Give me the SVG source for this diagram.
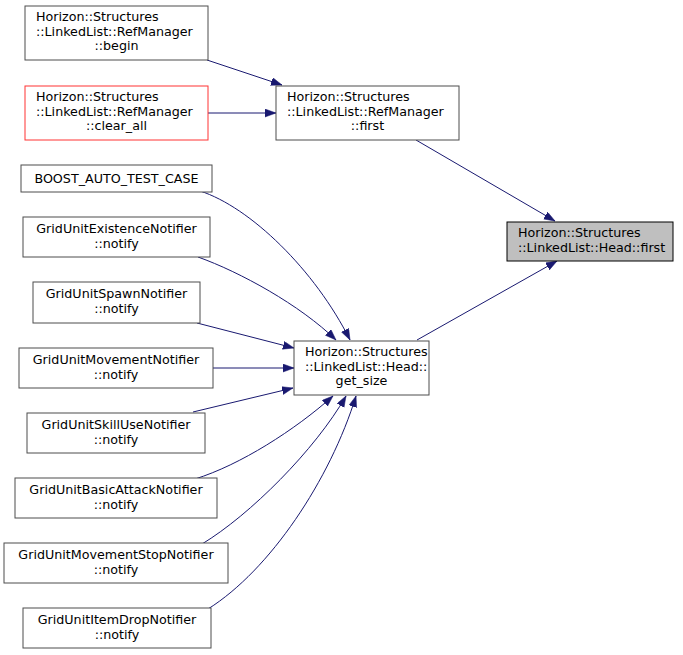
<svg xmlns="http://www.w3.org/2000/svg" width="683" height="655" viewBox="0 0 683 655">
<style>
.n rect{fill:#fff;stroke:#4d4d4d;stroke-width:1}
.n.red rect{stroke:#ff3333}
.n.cur rect{fill:#bfbfbf;stroke:#000}
text{font-family:"DejaVu Sans","Liberation Sans",sans-serif;font-size:12.7px;fill:#000}
.m{text-anchor:middle}
.e path{fill:none;stroke:#191970;stroke-width:1;marker-end:url(#ah)}
</style>
<defs>
<marker id="ah" markerUnits="userSpaceOnUse" markerWidth="12" markerHeight="9" refX="11" refY="4" orient="auto">
<path d="M0,0 L11,4 L0,8 z" fill="#191970" stroke="#191970" stroke-width="0.5"/>
</marker>
</defs>
<rect width="683" height="655" fill="#fff"/>
<g class="e" id="edges">
<path d="M207,60 L282,85"/>
<path d="M208,113 L276,113"/>
<path d="M416,140 L555,221"/>
<path d="M417,340 L557,261"/>
<path d="M200,191 C250,207 315,270 350,340"/>
<path d="M198,257 C240,272 300,305 336,340"/>
<path d="M197,323 L294,348"/>
<path d="M213,368 L294,368"/>
<path d="M193,412 L293,388"/>
<path d="M195,479 C240,465 295,430 333,396"/>
<path d="M202,544 C250,515 315,450 346,396"/>
<path d="M208,609 C270,570 330,480 356,396"/>
</g>
<g class="n" id="begin"><rect x="25" y="6" width="183" height="54"/>
<text x="36" y="21">Horizon::Structures</text><text x="36" y="36">::LinkedList::RefManager</text><text class="m" x="116.5" y="50">::begin</text></g>
<g class="n red" id="clear_all"><rect x="25" y="86" width="183" height="54"/>
<text x="36" y="101">Horizon::Structures</text><text x="36" y="116">::LinkedList::RefManager</text><text class="m" x="116.5" y="130">::clear_all</text></g>
<g class="n" id="refmgr_first"><rect x="276" y="86" width="183" height="54"/>
<text x="287" y="101">Horizon::Structures</text><text x="287" y="116">::LinkedList::RefManager</text><text class="m" x="367.5" y="130">::first</text></g>
<g class="n cur" id="head_first"><rect x="507" y="222" width="166" height="39"/>
<text x="518" y="237">Horizon::Structures</text><text x="518" y="252">::LinkedList::Head::first</text></g>
<g class="n" id="get_size"><rect x="294" y="341" width="135" height="54"/>
<text x="305" y="356">Horizon::Structures</text><text x="305" y="371">::LinkedList::Head::</text><text class="m" x="361.5" y="385">get_size</text></g>
<g class="n" id="boost"><rect x="21" y="165" width="191" height="27"/>
<text class="m" x="116.5" y="183">BOOST_AUTO_TEST_CASE</text></g>
<g class="n" id="existence"><rect x="23" y="217" width="187" height="40"/>
<text class="m" x="116.5" y="233">GridUnitExistenceNotifier</text><text class="m" x="116.5" y="248">::notify</text></g>
<g class="n" id="spawn"><rect x="33" y="282" width="167" height="41"/>
<text class="m" x="116.5" y="298">GridUnitSpawnNotifier</text><text class="m" x="116.5" y="313">::notify</text></g>
<g class="n" id="movement"><rect x="19" y="348" width="194" height="40"/>
<text class="m" x="116" y="364">GridUnitMovementNotifier</text><text class="m" x="116" y="379">::notify</text></g>
<g class="n" id="skilluse"><rect x="27" y="413" width="178" height="40"/>
<text class="m" x="116" y="429">GridUnitSkillUseNotifier</text><text class="m" x="116" y="444">::notify</text></g>
<g class="n" id="basicattack"><rect x="15" y="478" width="202" height="40"/>
<text class="m" x="116" y="494">GridUnitBasicAttackNotifier</text><text class="m" x="116" y="509">::notify</text></g>
<g class="n" id="movementstop"><rect x="4" y="543" width="224" height="40"/>
<text class="m" x="116" y="559">GridUnitMovementStopNotifier</text><text class="m" x="116" y="574">::notify</text></g>
<g class="n" id="itemdrop"><rect x="23" y="608" width="188" height="40"/>
<text class="m" x="117" y="624">GridUnitItemDropNotifier</text><text class="m" x="117" y="639">::notify</text></g>
</svg>
